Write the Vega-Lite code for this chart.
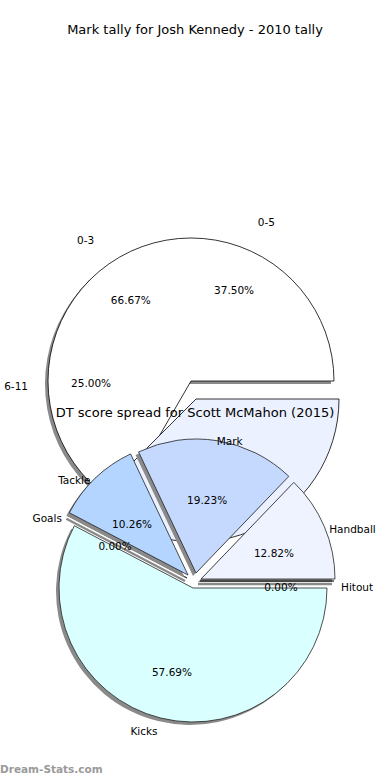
{
  "$schema": "https://vega.github.io/schema/vega-lite/v6.json",
  "width": 390,
  "height": 780,
  "autosize": {"type": "fit", "contains": "padding"},
  "padding": 0,
  "background": "white",
  "config": {"view": {"stroke": null}, "font": "DejaVu Sans"},
  "datasets": {
    "josh": [
      {"tally": "6-11", "share": 0.25, "n": 1},
      {"tally": "0-3", "share": 0.6667, "n": 2},
      {"tally": "0-5", "share": 0.375, "n": 3}
    ],
    "scott": [
      {"stat": "Kicks", "share": 0.5769, "n": 1},
      {"stat": "Goals", "share": 0.0, "n": 2},
      {"stat": "Tackle", "share": 0.1026, "n": 3},
      {"stat": "Mark", "share": 0.1923, "n": 4},
      {"stat": "Handball", "share": 0.1282, "n": 5},
      {"stat": "Hitout", "share": 0.0, "n": 6}
    ],
    "titles": [{"t": "Mark tally for Josh Kennedy - 2010 tally"}],
    "titles2": [{"t": "DT score spread for Scott McMahon (2015)"}],
    "brand": [{"t": "Dream-Stats.com"}]
  },
  "resolve": {"scale": {"theta": "independent"}},
  "layer": [
    {
      "data": {"name": "josh"},
      "transform": [
        {"filter": "datum.tally != '0-3'"},
        {"stack": "share", "groupby": [], "sort": [{"field": "n", "order": "descending"}], "as": ["s0", "s1"]},
        {"filter": "datum.tally == '6-11'"}
      ],
      "mark": {"type": "arc", "x": 191, "y": 381, "radius": 143, "stroke": "#000000", "strokeWidth": 0.8},
      "encoding": {
        "theta": {"field": "s0", "type": "quantitative", "scale": {"domain": [0, 1], "range": [1.5708, 7.854]}},
        "theta2": {"field": "s1"},
        "color": {"field": "tally", "type": "nominal", "legend": null,
          "scale": {"domain": ["0-3", "0-5", "6-11", "Kicks", "Goals", "Tackle", "Mark", "Handball", "Hitout"],
                    "range": ["#ffffff", "#ebf1ff", "#c6d9ff", "#d9ffff", "#b3d4ff", "#b3d5ff", "#c5d9ff", "#eef3ff", "#ffffff"]}}
      }
    },
    {
      "data": {"name": "josh"},
      "transform": [{"filter": "datum.tally == '0-3'"}],
      "encoding": {
        "theta": {"field": "share", "type": "quantitative", "scale": {"domain": [0, 1], "range": [1.5708, -4.7124]}},
        "theta2": {"datum": 0}
      },
      "layer": [
        {"mark": {"type": "arc", "x": 188, "y": 384, "radius": 143, "fill": "#8a8a8a"}},
        {
          "mark": {"type": "arc", "x": 191, "y": 381, "radius": 143, "stroke": "#000000", "strokeWidth": 0.8},
          "encoding": {"color": {"field": "tally", "type": "nominal", "legend": null}}
        }
      ]
    },
    {
      "data": {"name": "josh"},
      "transform": [
        {"filter": "datum.tally != '0-3'"},
        {"stack": "share", "groupby": [], "sort": [{"field": "n", "order": "descending"}], "as": ["s0", "s1"]},
        {"filter": "datum.tally == '0-5'"}
      ],
      "mark": {"type": "arc", "x": 196, "y": 399, "radius": 143, "stroke": "#000000", "strokeWidth": 0.8},
      "encoding": {
        "theta": {"field": "s0", "type": "quantitative", "scale": {"domain": [0, 1], "range": [1.5708, 7.854]}},
        "theta2": {"field": "s1"},
        "color": {"field": "tally", "type": "nominal", "legend": null}
      }
    },
    {
      "data": {"name": "scott"},
      "transform": [
        {"stack": "share", "groupby": [], "sort": [{"field": "n", "order": "ascending"}], "as": ["s0", "s1"]}
      ],
      "encoding": {
        "theta": {"field": "s0", "type": "quantitative", "scale": {"domain": [0, 1], "range": [1.5708, 7.854]}},
        "theta2": {"field": "s1"}
      },
      "layer": [
        {"transform": [{"filter": "datum.stat == 'Kicks'"}], "mark": {"type": "arc", "x": 190, "y": 591, "radius": 134, "fill": "#8a8a8a"}},
        {"transform": [{"filter": "datum.stat == 'Kicks'"}], "mark": {"type": "arc", "x": 193, "y": 588, "radius": 134, "stroke": "#222222", "strokeWidth": 0.8},
          "encoding": {"color": {"field": "stat", "type": "nominal", "legend": null}}},
        {"transform": [{"filter": "datum.stat == 'Goals'"}], "mark": {"type": "arc", "x": 185, "y": 581, "radius": 134, "stroke": "#8a8a8a", "strokeWidth": 2.5}},
        {"transform": [{"filter": "datum.stat == 'Goals'"}], "mark": {"type": "arc", "x": 187, "y": 578, "radius": 134, "stroke": "#222222", "strokeWidth": 0.8},
          "encoding": {"color": {"field": "stat", "type": "nominal", "legend": null}}},
        {"transform": [{"filter": "datum.stat == 'Tackle'"}], "mark": {"type": "arc", "x": 185, "y": 578, "radius": 134, "fill": "#8a8a8a"}},
        {"transform": [{"filter": "datum.stat == 'Tackle'"}], "mark": {"type": "arc", "x": 188, "y": 575, "radius": 134, "stroke": "#222222", "strokeWidth": 0.8},
          "encoding": {"color": {"field": "stat", "type": "nominal", "legend": null}}},
        {"transform": [{"filter": "datum.stat == 'Mark'"}], "mark": {"type": "arc", "x": 193, "y": 576, "radius": 134, "fill": "#8a8a8a"}},
        {"transform": [{"filter": "datum.stat == 'Mark'"}], "mark": {"type": "arc", "x": 196, "y": 573, "radius": 134, "stroke": "#222222", "strokeWidth": 0.8},
          "encoding": {"color": {"field": "stat", "type": "nominal", "legend": null}}},
        {"transform": [{"filter": "datum.stat == 'Handball'"}], "mark": {"type": "arc", "x": 198, "y": 582, "radius": 134, "fill": "#8a8a8a"}},
        {"transform": [{"filter": "datum.stat == 'Handball'"}], "mark": {"type": "arc", "x": 201, "y": 579, "radius": 134, "stroke": "#222222", "strokeWidth": 0.8},
          "encoding": {"color": {"field": "stat", "type": "nominal", "legend": null}}},
        {"transform": [{"filter": "datum.stat == 'Hitout'"}], "mark": {"type": "arc", "x": 198, "y": 584, "radius": 134, "stroke": "#8a8a8a", "strokeWidth": 2.5}},
        {"transform": [{"filter": "datum.stat == 'Hitout'"}], "mark": {"type": "arc", "x": 200, "y": 581, "radius": 134, "stroke": "#222222", "strokeWidth": 0.8},
          "encoding": {"color": {"field": "stat", "type": "nominal", "legend": null}}}
      ]
    },
    {
      "data": {"name": "josh"},
      "encoding": {
        "theta": {"field": "share", "type": "quantitative", "stack": true, "scale": {"domain": [0, 1], "range": [4.4157, 6.5101]}},
        "order": {"field": "n", "type": "quantitative"}
      },
      "layer": [
        {
          "mark": {"type": "text", "x": 191, "y": 381, "radius": 175, "fontSize": 10.5, "color": "#000000"},
          "encoding": {"text": {"field": "tally", "type": "nominal"}}
        },
        {
          "mark": {"type": "text", "x": 191, "y": 381, "radius": 100, "fontSize": 10.5, "color": "#000000"},
          "encoding": {"text": {"field": "share", "type": "quantitative", "format": ".2%"}}
        }
      ]
    },
    {
      "data": {"name": "scott"},
      "encoding": {
        "theta": {"field": "share", "type": "quantitative", "stack": true, "scale": {"domain": [0, 1], "range": [1.5708, 7.854]}},
        "order": {"field": "n", "type": "quantitative"}
      },
      "layer": [
        {
          "mark": {"type": "text", "x": 193, "y": 588, "radius": 148, "fontSize": 10.5, "color": "#000000",
            "align": {"expr": "((datum.share_start + datum.share_end) / 2 < 0.25 || (datum.share_start + datum.share_end) / 2 > 0.75) ? 'left' : 'right'"}},
          "encoding": {"text": {"field": "stat", "type": "nominal"}}
        },
        {
          "mark": {"type": "text", "x": 193, "y": 588, "radius": 88, "fontSize": 10.5, "color": "#000000"},
          "encoding": {"text": {"field": "share", "type": "quantitative", "format": ".2%"}}
        }
      ]
    },
    {
      "data": {"name": "titles"},
      "mark": {"type": "text", "x": 195, "y": 30, "fontSize": 13, "color": "#000000", "align": "center", "baseline": "middle"},
      "encoding": {"text": {"field": "t", "type": "nominal"}}
    },
    {
      "data": {"name": "titles2"},
      "mark": {"type": "text", "x": 195, "y": 413, "fontSize": 13, "color": "#000000", "align": "center", "baseline": "middle"},
      "encoding": {"text": {"field": "t", "type": "nominal"}}
    },
    {
      "data": {"name": "brand"},
      "mark": {"type": "text", "x": 0, "y": 770, "fontSize": 10.5, "fontWeight": "bold", "color": "#9a9a9a", "align": "left", "baseline": "middle"},
      "encoding": {"text": {"field": "t", "type": "nominal"}}
    }
  ]
}
